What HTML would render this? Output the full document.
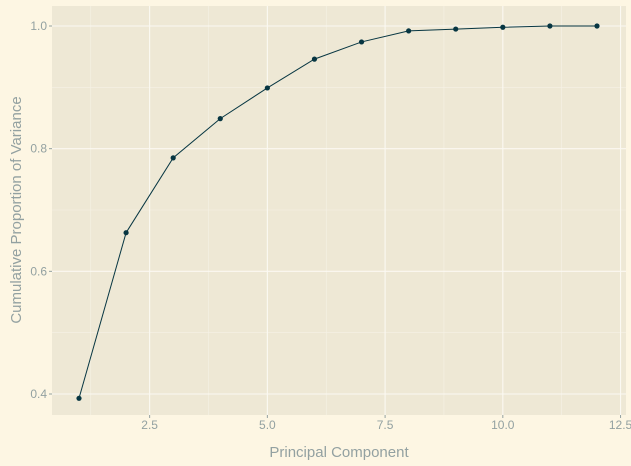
<!DOCTYPE html>
<html><head><meta charset="utf-8">
<style>
html,body{margin:0;padding:0;background:#FDF6E3;}
svg{display:block;font-family:"Liberation Sans",sans-serif;}
</style></head>
<body>
<svg id="chart" width="631" height="466">
<rect x="0" y="0" width="631" height="466" fill="#FDF6E3"/>
<rect x="52" y="6" width="574" height="409" fill="#EEE8D5"/>
<g id="grid"></g>
<g id="marks"></g>
<g id="axes"></g>
<text x="339" y="457" text-anchor="middle" font-size="15" fill="#93A1A1">Principal Component</text>
<text transform="translate(21,210) rotate(-90)" text-anchor="middle" font-size="15" fill="#93A1A1">Cumulative Proportion of Variance</text>
</svg>
<script>
const components=[1,2,3,4,5,6,7,8,9,10,11,12];
const cumVar=[0.393,0.663,0.785,0.849,0.899,0.946,0.974,0.992,0.995,0.998,1.0,1.0];
const xTicks=[2.5,5.0,7.5,10.0,12.5];
const xTickLabels=["2.5","5.0","7.5","10.0","12.5"];
const yTicks=[0.4,0.6,0.8,1.0];
const yTickLabels=["0.4","0.6","0.8","1.0"];
const NS="http://www.w3.org/2000/svg";
const L=52,R=626,T=6,B=415;
function xs(v){return 79+(v-1)*(597-79)/11;}
function ys(v){return 394+(v-0.4)*(26-394)/0.6;}
function mk(tag,attrs,parent){const e=document.createElementNS(NS,tag);for(const k in attrs)e.setAttribute(k,attrs[k]);parent.appendChild(e);return e;}
const grid=document.getElementById('grid'),marks=document.getElementById('marks'),axes=document.getElementById('axes');
const minorX=[1.25];
for(let i=0;i<xTicks.length-1;i++)minorX.push((xTicks[i]+xTicks[i+1])/2);
minorX.forEach(v=>{const x=xs(v);const g=mk('line',{x1:x,x2:x,y1:T,y2:B,stroke:'#F6F2E6','stroke-width':0.6},grid);
});
for(let i=0;i<yTicks.length-1;i++){const y=ys((yTicks[i]+yTicks[i+1])/2);const g=mk('line',{x1:L,x2:R,y1:y,y2:y,stroke:'#F6F2E6','stroke-width':0.6},grid);
}
xTicks.forEach((t,i)=>{const x=xs(t);const g=mk('line',{x1:x,x2:x,y1:T,y2:B,stroke:'#FBF9F2','stroke-width':1.1},grid);

const tk=mk('line',{x1:x,x2:x,y1:B,y2:B+3,stroke:'#93A1A1'},axes);

const tx=mk('text',{x:x,y:B+14,'text-anchor':'middle','font-size':12,fill:'#93A1A1'},axes);tx.textContent=xTickLabels[i];
});
yTicks.forEach((t,i)=>{const y=ys(t);const g=mk('line',{x1:L,x2:R,y1:y,y2:y,stroke:'#FBF9F2','stroke-width':1.1},grid);

const tk=mk('line',{x1:L-3,x2:L,y1:y,y2:y,stroke:'#93A1A1'},axes);

const tx=mk('text',{x:L-5,y:y+4,'text-anchor':'end','font-size':12,fill:'#93A1A1'},axes);tx.textContent=yTickLabels[i];
});
const pts=components.map((c,i)=>xs(c)+','+ys(cumVar[i])).join(' ');
const line=mk('polyline',{points:pts,fill:'none',stroke:'#073642','stroke-width':1},marks);

components.forEach((c,i)=>{const p=mk('circle',{cx:xs(c),cy:ys(cumVar[i]),r:2.6,fill:'#073642'},marks);
});
</script>
</body></html>
